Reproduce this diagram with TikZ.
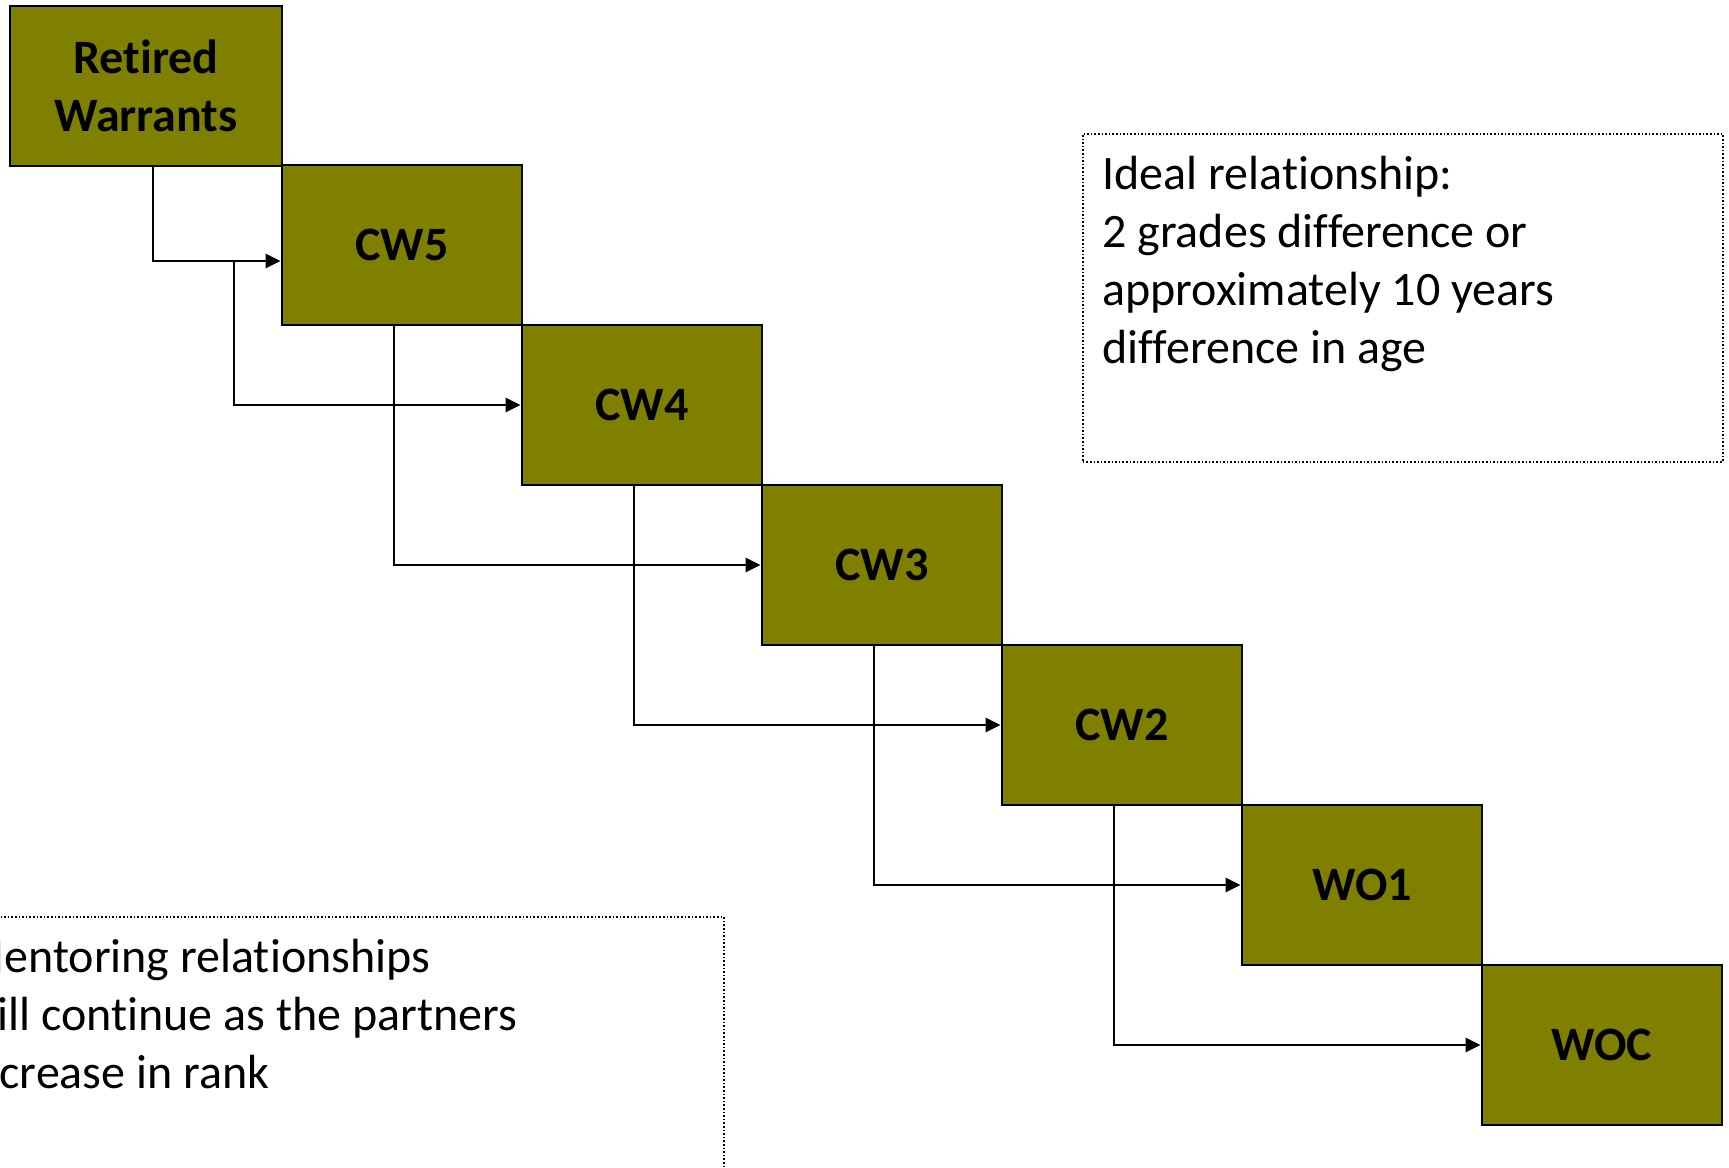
\documentclass[tikz,border=0pt]{standalone}
\usepackage{fontspec}
\setmainfont[Ligatures=NoCommon]{Carlito}
\usetikzlibrary{arrows.meta}
\definecolor{olivebox}{RGB}{128,128,0}
\tikzset{
  rank/.style={draw=black, line width=1.4pt, fill=olivebox, minimum width=120pt, minimum height=80pt, inner sep=0pt, font=\fontsize{24}{29}\selectfont\bfseries, align=center},
  conn/.style={draw=black, line width=1.3pt, -{Triangle[length=7.5pt,width=7pt]}},
  notebox/.style={draw=black, line width=0.8pt, densely dotted, inner sep=0pt},
  notetext/.style={inner sep=0pt, anchor=north west, align=left, font=\fontsize{24}{29}\selectfont}
}
\begin{document}
\begin{tikzpicture}[x=0.5pt,y=-0.5pt]
\useasboundingbox (0,0) rectangle (1729,1167);
\clip (0,0) rectangle (1729,1167);
% rank boxes
\node[rank, minimum width=136pt] (ret) at (146,86) {Retired\\Warrants};
\node[rank] (cw5) at (402,245) {CW5};
\node[rank] (cw4) at (642,405) {CW4};
\node[rank] (cw3) at (882,565) {CW3};
\node[rank] (cw2) at (1122,725) {CW2};
\node[rank] (wo1) at (1362,885) {WO1};
\node[rank] (woc) at (1602,1045) {WOC};
% connectors
\draw[conn] ([xshift=3.5pt]ret.south) |- ([yshift=-8pt]cw5.west);
\coordinate (br) at (234,261);
\draw[conn] (br) |- (cw4.west);
\draw[conn] ([xshift=-4pt]cw5.south) |- (cw3.west);
\draw[conn] ([xshift=-4pt]cw4.south) |- (cw2.west);
\draw[conn] ([xshift=-4pt]cw3.south) |- (wo1.west);
\draw[conn] ([xshift=-4pt]cw2.south) |- (woc.west);
% note boxes
\node[notebox, anchor=north west, minimum width=320pt, minimum height=164pt] (ideal) at (1082,133) {};
\node[notetext] (idealtxt) at (1102,156) {Ideal relationship:\\2 grades difference or\\approximately 10 years\\difference in age};
\node[notebox, anchor=north west, minimum width=390pt, minimum height=160pt] (mentor) at (-57,916) {};
\node[notetext] (mentortxt) at (-37,939) {Mentoring relationships\\will continue as the partners\\increase in rank};
\end{tikzpicture}
\end{document}
